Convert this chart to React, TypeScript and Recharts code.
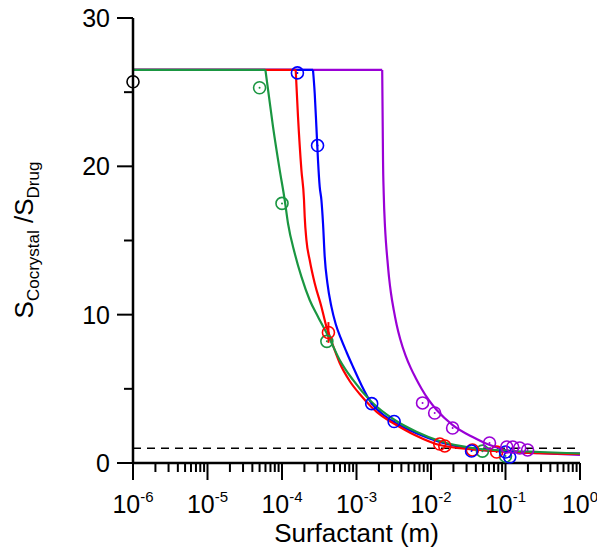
import {
  ComposedChart,
  Line,
  Scatter,
  XAxis,
  YAxis,
  ReferenceLine,
  ErrorBar,
} from 'recharts';

// fitted curves (surfactant molality, ratio)
const PLATEAU = 26.5;
const X_MIN = 1e-6;

const greenCurveX = [5.985e-5, 7.57e-5, 9.31e-5, 1.087e-4, 1.203e-4, 1.481e-4, 1.821e-4, 2.353e-4, 3.041e-4, 4.3e-4, 5.95e-4, 8.97e-4, 1.585e-3, 3.257e-3, 6.37e-3, 0.01308, 0.0363, 0.1038, 0.2877, 1];
const greenCurveY = [26.5, 22.68, 19.76, 17.73, 16.16, 14.14, 12.56, 10.99, 9.86, 8.43, 6.95, 5.6, 4.13, 2.9, 2.11, 1.48, 1.01, 0.83, 0.74, 0.64];

const redCurveX = [1.527e-4, 1.64e-4, 1.821e-4, 1.974e-4, 2.017e-4, 2.126e-4, 2.353e-4, 2.748e-4, 3.38e-4, 3.945e-4, 4.365e-4, 5.95e-4, 8.1e-4, 1.104e-3, 1.585e-3, 2.179e-3, 3.09e-3, 6.04e-3, 0.01308, 0.0363, 0.1038, 1];
const redCurveY = [26.5, 23.35, 19.76, 17.73, 16.61, 15.04, 13.69, 12.12, 10.54, 9.19, 8.56, 6.74, 5.53, 4.65, 3.78, 3.17, 2.7, 1.89, 1.21, 0.92, 0.76, 0.61];

const blueCurveX = [2.606e-4, 2.748e-4, 2.894e-4, 3.041e-4, 3.206e-4, 3.38e-4, 3.552e-4, 3.743e-4, 4.068e-4, 4.603e-4, 5.257e-4, 6.135e-4, 7.386e-4, 8.97e-4, 1.163e-3, 1.585e-3, 2.269e-3, 3.257e-3, 6.37e-3, 0.01308, 0.0363, 0.1038, 1];
const blueCurveY = [26.5, 24.93, 22.68, 20.43, 18.63, 17.73, 16.16, 13.91, 12.12, 10.54, 9.37, 8.43, 7.45, 6.49, 5.26, 4.03, 3.27, 2.74, 2.0, 1.42, 0.94, 0.78, 0.64];

const purpleCurveX = [2.213e-3, 2.249e-3, 2.27e-3, 2.318e-3, 2.414e-3, 2.49e-3, 2.6e-3, 2.73e-3, 2.9e-3, 3.16e-3, 3.464e-3, 3.859e-3, 4.574e-3, 5.34e-3, 6.231e-3, 7.502e-3, 9.314e-3, 0.01192, 0.01956, 0.0363, 0.0614, 0.1413, 0.2877, 1];
const purpleCurveY = [26.5, 22.66, 20.43, 18.21, 15.91, 14.83, 13.69, 12.54, 11.46, 10.32, 9.31, 8.36, 7.22, 6.41, 5.73, 4.99, 4.25, 3.57, 2.56, 1.75, 1.21, 0.74, 0.67, 0.54];

// measured points
const blackPtsX = [1e-6];
const blackPtsY = [25.7];

const greenPtsX = [5.0e-5, 1.0e-4, 4.0e-4, 0.049, 0.1];
const greenPtsY = [25.3, 17.5, 8.2, 0.8, 0.47];

const redPtsX = [4.2e-4, 0.0131, 0.0153, 0.036, 0.076];
const redPtsY = [8.8, 1.28, 1.15, 0.88, 0.74];
const redPtsErr = [0.7, 0, 0, 0, 0];

const bluePtsX = [1.61e-4, 3.0e-4, 1.6e-3, 3.2e-3, 0.035, 0.1, 0.114];
const bluePtsY = [26.3, 21.4, 4.0, 2.8, 0.81, 0.74, 0.4];

const purplePtsX = [7.7e-3, 0.0112, 0.0195, 0.061, 0.104, 0.125, 0.155, 0.198];
const purplePtsY = [4.05, 3.37, 2.36, 1.35, 1.08, 1.08, 1.01, 0.88];

const decades = [-6, -5, -4, -3, -2, -1, 0];
const minorSteps = [2, 3, 4, 5, 6, 7, 8, 9];
const yTicks = [0, 5, 10, 15, 20, 25, 30];

const GREEN = '#1a9641';
const RED = '#ff0000';
const BLUE = '#0000ff';
const PURPLE = '#9a00d6';
const FONT = '"Liberation Sans", Arial, sans-serif';

const zip = (xs: number[], ys: number[], errs?: number[]) =>
  xs.map((x, i) => ({ x, y: ys[i], err: errs ? errs[i] : 0 }));

// flat part of each fit, from the left edge up to where it starts to fall
const plateau = (xs: number[]) => [
  { x: X_MIN, y: PLATEAU },
  { x: xs[0], y: PLATEAU },
];

const xTicks: number[] = [];
decades.forEach((d) => {
  xTicks.push(Math.pow(10, d));
  if (d < 0) minorSteps.forEach((m) => xTicks.push(m * Math.pow(10, d)));
});

const isMajor = (v: number) => {
  const l = Math.log10(v);
  return Math.abs(l - Math.round(l)) < 1e-9;
};

const XTick = ({ x, y, payload }: any) => {
  const major = isMajor(payload.value);
  return (
    <g>
      <line x1={x} x2={x} y1={y} y2={y + (major ? 17 : 9)} stroke="#000" strokeWidth={2} />
      {major && (
        <text x={x} y={y + 50} textAnchor="middle" fontSize={25} fontFamily={FONT} fill="#000">
          10
          <tspan dy={-11} fontSize={15}>
            {Math.round(Math.log10(payload.value))}
          </tspan>
        </text>
      )}
    </g>
  );
};

const YTick = ({ x, y, payload }: any) => {
  const major = payload.value % 10 === 0;
  return (
    <g>
      <line x1={x} x2={x - (major ? 16 : 9)} y1={y} y2={y} stroke="#000" strokeWidth={2} />
      {major && (
        <text x={x - 23} y={y} dy={9} textAnchor="end" fontSize={25} fontFamily={FONT} fill="#000">
          {payload.value}
        </text>
      )}
    </g>
  );
};

const marker = (color: string) => (props: any) => {
  const { cx, cy } = props;
  if (cx == null || cy == null) return <g />;
  return (
    <g>
      <circle cx={cx} cy={cy} r={6} fill="none" stroke={color} strokeWidth={1.6} />
      <circle cx={cx} cy={cy} r={1} fill={color} />
    </g>
  );
};

const YTitle = () => (
  <text
    x={33}
    y={240}
    transform="rotate(-90, 33, 240)"
    textAnchor="middle"
    fontSize={26}
    fontFamily={FONT}
    fill="#000"
  >
    S
    <tspan fontSize={17} dy={6}>Cocrystal</tspan>
    <tspan dy={-6}> /S</tspan>
    <tspan fontSize={17} dy={6}>Drug</tspan>
  </text>
);

const fits = [
  { name: 'purple', xs: purpleCurveX, ys: purpleCurveY, color: PURPLE },
  { name: 'blue', xs: blueCurveX, ys: blueCurveY, color: BLUE },
  { name: 'red', xs: redCurveX, ys: redCurveY, color: RED },
  { name: 'green', xs: greenCurveX, ys: greenCurveY, color: GREEN },
];

const App = () => {
  return (
    <div style={{ position: 'absolute', left: 0, top: 0 }}>
      <ComposedChart width={597} height={552} margin={{ top: 18, right: 17, bottom: 0, left: 0 }}>
        <XAxis
          type="number"
          dataKey="x"
          scale="log"
          domain={[1e-6, 1]}
          ticks={xTicks}
          interval={0}
          tick={<XTick />}
          tickLine={false}
          tickSize={0}
          tickMargin={0}
          height={89}
          axisLine={{ stroke: '#000', strokeWidth: 2.5 }}
          label={{
            value: 'Surfactant (m)',
            position: 'insideBottom',
            offset: 10,
            fontSize: 26,
            fontFamily: FONT,
            fill: '#000',
          }}
        />
        <YAxis
          type="number"
          domain={[0, 30]}
          ticks={yTicks}
          interval={0}
          tick={<YTick />}
          tickLine={false}
          tickSize={0}
          tickMargin={0}
          width={133}
          axisLine={{ stroke: '#000', strokeWidth: 2.5 }}
          label={{ content: () => <YTitle /> }}
        />
        <ReferenceLine y={1} stroke="#000" strokeWidth={1.5} strokeDasharray="8 6" />
        {fits.map((f) => (
          <Line
            key={f.name + '-flat'}
            data={plateau(f.xs)}
            dataKey="y"
            stroke={f.color}
            strokeWidth={2.2}
            dot={false}
            isAnimationActive={false}
          />
        ))}
        {fits.map((f) => (
          <Line
            key={f.name + '-fall'}
            type="monotoneX"
            data={zip(f.xs, f.ys)}
            dataKey="y"
            stroke={f.color}
            strokeWidth={2.2}
            dot={false}
            isAnimationActive={false}
          />
        ))}
        <Scatter data={zip(blackPtsX, blackPtsY)} dataKey="y" shape={marker('#000')} isAnimationActive={false} />
        <Scatter data={zip(greenPtsX, greenPtsY)} dataKey="y" shape={marker(GREEN)} isAnimationActive={false} />
        <Scatter data={zip(redPtsX, redPtsY, redPtsErr)} dataKey="y" shape={marker(RED)} isAnimationActive={false}>
          <ErrorBar dataKey="err" direction="y" width={0} stroke={RED} strokeWidth={2} />
        </Scatter>
        <Scatter data={zip(bluePtsX, bluePtsY)} dataKey="y" shape={marker(BLUE)} isAnimationActive={false} />
        <Scatter data={zip(purplePtsX, purplePtsY)} dataKey="y" shape={marker(PURPLE)} isAnimationActive={false} />
      </ComposedChart>
    </div>
  );
};

export default App;
